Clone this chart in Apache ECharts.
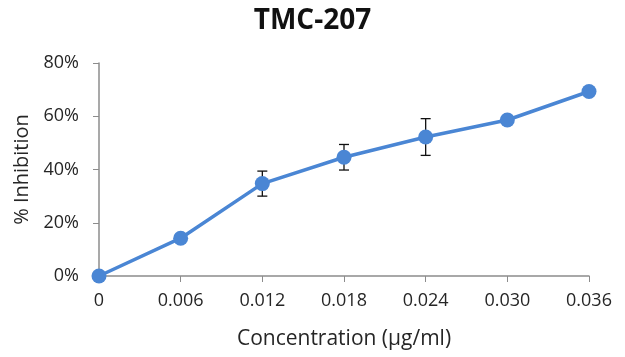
<!DOCTYPE html>
<html>
<head>
<meta charset="utf-8">
<script src="https://cdn.jsdelivr.net/npm/echarts@6/dist/echarts.min.js"></script>
<style>html,body{margin:0;padding:0;background:#fff;}#c{width:625px;height:357px;}</style>
</head>
<body>
<div id="c"></div>
<script>
const categories = ['0', '0.006', '0.012', '0.018', '0.024', '0.030', '0.036'];
const inhibition = [0, 14.2, 34.7, 44.6, 52.2, 58.6, 69.3];
const errors = [null, null, 4.7, 4.8, 6.9, null, null];
const yTicks = [0, 20, 40, 60, 80];

const errData = categories.map((c, i) => errors[i] == null ? null : [i, inhibition[i] - errors[i], inhibition[i] + errors[i]]).filter(Boolean);

const chart = echarts.init(document.getElementById('c'));
const font = '"Open Sans", "Liberation Sans", sans-serif';
const txt = '#262626';
chart.setOption({
  animation: false,
  title: {
    text: 'TMC-207', left: 'center', top: 2,
    textStyle: { fontFamily: font, fontSize: 28, fontWeight: 'bold', color: '#111' }
  },
  grid: { left: 99, right: 36, top: 63, bottom: 81 },
  xAxis: {
    type: 'category', data: categories, boundaryGap: false,
    name: 'Concentration (µg/ml)', nameLocation: 'middle', nameGap: 53,
    nameTextStyle: { fontFamily: font, fontSize: 21, color: txt },
    axisLine: { lineStyle: { color: '#8c8c8c', width: 1.5 } },
    axisTick: { length: 6, lineStyle: { color: '#8c8c8c' } },
    axisLabel: { fontFamily: font, fontSize: 18, color: txt, margin: 16 }
  },
  yAxis: {
    type: 'value', min: yTicks[0], max: yTicks[yTicks.length - 1], interval: 20,
    name: '% Inhibition', nameLocation: 'middle', nameGap: 66,
    nameTextStyle: { fontFamily: font, fontSize: 20, color: txt },
    axisLine: { show: true, lineStyle: { color: '#8c8c8c', width: 1.5 } },
    axisTick: { show: true, length: 6, lineStyle: { color: '#8c8c8c' } },
    splitLine: { show: false },
    axisLabel: { fontFamily: font, fontSize: 18, color: txt, margin: 20, formatter: v => v + '%' }
  },
  series: [
    {
      type: 'custom', z: 1,
      data: errData,
      renderItem: (params, api) => {
        const x = api.coord([api.value(0), 0])[0];
        const lo = api.coord([api.value(0), api.value(1)])[1];
        const hi = api.coord([api.value(0), api.value(2)])[1];
        const w = 5;
        const st = { stroke: '#111', lineWidth: 1.3 };
        return { type: 'group', children: [
          { type: 'line', shape: { x1: x, y1: lo, x2: x, y2: hi }, style: st },
          { type: 'line', shape: { x1: x - w, y1: lo, x2: x + w, y2: lo }, style: st },
          { type: 'line', shape: { x1: x - w, y1: hi, x2: x + w, y2: hi }, style: st }
        ]};
      }
    },
    {
      type: 'line', z: 2, data: inhibition,
      symbol: 'circle', symbolSize: 15,
      lineStyle: { color: '#4a86d4', width: 3.5 },
      itemStyle: { color: '#4a86d4' }
    }
  ]
});
</script>
</body>
</html>
